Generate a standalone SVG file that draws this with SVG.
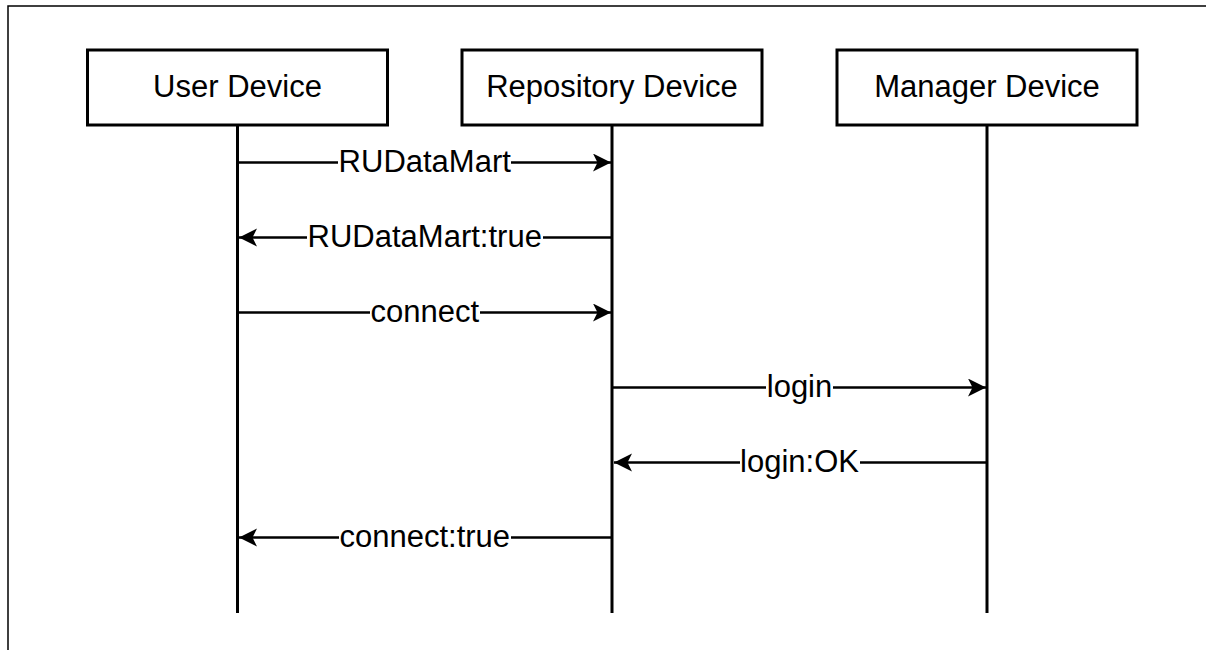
<svg xmlns="http://www.w3.org/2000/svg" width="1214" height="650" viewBox="0 0 1214 650">
  <defs>
    <style>
      .box { fill: #ffffff; stroke: #000000; stroke-width: 3; }
      .life { stroke: #000000; stroke-width: 3; fill: none; }
      .msg { stroke: #000000; stroke-width: 2.5; fill: none; marker-end: url(#arrow); }
      .lbl { font-family: "Liberation Sans", Arial, sans-serif; font-size: 31px; fill: #000000; text-anchor: middle; }
      .bg { fill: #ffffff; stroke: none; }
      .frame { stroke: #000000; stroke-width: 1.5; fill: none; }
    </style>
    <marker id="arrow" markerUnits="userSpaceOnUse" markerWidth="20" markerHeight="20" refX="18" refY="9" orient="auto">
      <path d="M0,0 L18,9 L0,18 L4.5,9 z" fill="#000000"/>
    </marker>
  </defs>
  <rect width="1214" height="650" fill="#ffffff"/>
  <path class="frame" d="M8,650 V6 H1206"/>

  <g id="user-device">
    <rect class="box" x="87.5" y="50" width="300" height="75"/>
    <text class="lbl" x="237.5" y="97">User Device</text>
    <line class="life" x1="237.5" y1="125" x2="237.5" y2="613"/>
  </g>
  <g id="repository-device">
    <rect class="box" x="462" y="50" width="300" height="75"/>
    <text class="lbl" x="612" y="97">Repository Device</text>
    <line class="life" x1="612" y1="125" x2="612" y2="613"/>
  </g>
  <g id="manager-device">
    <rect class="box" x="837" y="50" width="300" height="75"/>
    <text class="lbl" x="987" y="97">Manager Device</text>
    <line class="life" x1="987" y1="125" x2="987" y2="613"/>
  </g>

  <g id="connectors">
    <g id="m1">
      <line class="msg" x1="237.5" y1="162.5" x2="611" y2="162.5"/>
      <rect class="bg" x="338" y="148" width="173" height="30"/>
      <text class="lbl" x="424.75" y="171.5">RUDataMart</text>
    </g>
    <g id="m2">
      <line class="msg" x1="612" y1="237.5" x2="239" y2="237.5"/>
      <rect class="bg" x="307" y="223" width="236" height="30"/>
      <text class="lbl" x="424.75" y="246.5">RUDataMart:true</text>
    </g>
    <g id="m3">
      <line class="msg" x1="237.5" y1="312.5" x2="611" y2="312.5"/>
      <rect class="bg" x="370" y="298" width="110" height="30"/>
      <text class="lbl" x="424.75" y="321.5">connect</text>
    </g>
    <g id="m4">
      <line class="msg" x1="612" y1="387.5" x2="986" y2="387.5"/>
      <rect class="bg" x="766" y="373" width="67" height="30"/>
      <text class="lbl" x="799.5" y="396.5">login</text>
    </g>
    <g id="m5">
      <line class="msg" x1="987" y1="462.5" x2="614" y2="462.5"/>
      <rect class="bg" x="740" y="448" width="120" height="30"/>
      <text class="lbl" x="799.5" y="471.5">login:OK</text>
    </g>
    <g id="m6">
      <line class="msg" x1="612" y1="537.5" x2="239" y2="537.5"/>
      <rect class="bg" x="339" y="523" width="172" height="30"/>
      <text class="lbl" x="424.75" y="546.5">connect:true</text>
    </g>
  </g>
</svg>
